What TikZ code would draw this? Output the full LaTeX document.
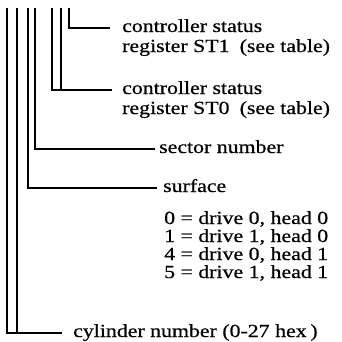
\documentclass[tikz,border=0pt]{standalone}
\usepackage{fontspec}
\setmainfont{Liberation Serif}[FakeStretch=1.18,FakeBold=0.6]
\begin{document}
\begin{tikzpicture}[x=1pt,y=-1pt,
  bit/.style={line width=1.2pt},
  lbl/.style={anchor=base west,inner sep=0pt,font=\fontsize{18.5}{18}\selectfont}]
\useasboundingbox (0,0) rectangle (342,341);
% tops of the bit lines
\foreach \n/\x in {1/7,2/17,3/28,4/35,5/52,6/61,7/69}
  \coordinate (b\n) at (\x,8);
% field descriptions
\node[lbl] (st1a) at (122,32) {controller status};
\node[lbl] (st1b) at (122,52) {register ST1\hspace{0.55em}(see table)};
\node[lbl] (st0a) at (122,94) {controller status};
\node[lbl] (st0b) at (122,114) {register ST0\hspace{0.55em}(see table)};
\node[lbl] (sec) at (159,153) {sector number};
\node[lbl] (surf) at (163,192) {surface};
\node[lbl] (d0) at (164,224) {0 = drive 0,\hspace{0.3em}head 0};
\node[lbl] (d1) at (164,242) {1 = drive 1,\hspace{0.3em}head 0};
\node[lbl] (d4) at (164,260) {4 = drive 0,\hspace{0.3em}head 1};
\node[lbl] (d5) at (164,278) {5 = drive 1,\hspace{0.3em}head 1};
\node[lbl] (cyl) at (73,337) {cylinder number (0-27\hspace{0.3em}hex\hspace{0.2em})};
% ends of the leader lines
\coordinate (e1) at ([xshift=-12pt,yshift=4pt]st1a.base west);
\coordinate (e0) at ([xshift=-10pt,yshift=4pt]st0a.base west);
\coordinate (es) at ([xshift=-4pt,yshift=4pt]sec.base west);
\coordinate (ef) at ([xshift=-6pt,yshift=4pt]surf.base west);
\coordinate (ec) at ([xshift=-11pt,yshift=4pt]cyl.base west);
% leader lines
\draw[bit] (b7) |- (e1);
\draw[bit] (b5) |- (e0);
\draw[bit] (b6) -- (b6 |- e0);
\draw[bit] (b4) |- (es);
\draw[bit] (b3) |- (ef);
\draw[bit] (b1) |- (ec);
\draw[bit] (b2) -- (b2 |- ec);
\end{tikzpicture}
\end{document}
